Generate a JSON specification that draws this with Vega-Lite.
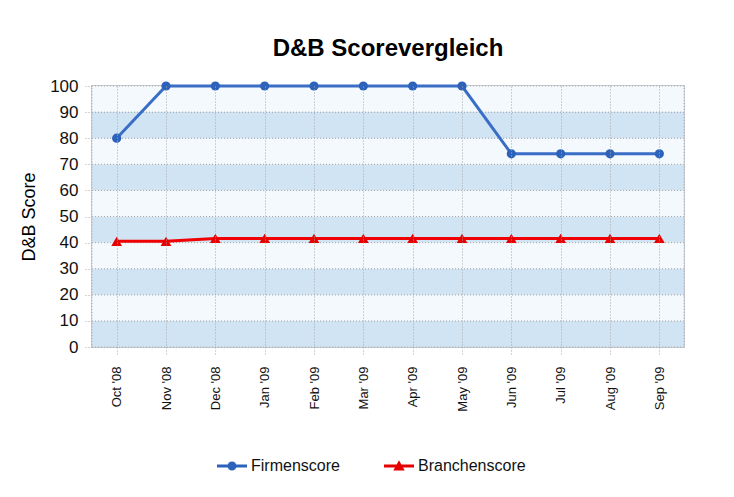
{
  "$schema": "https://vega.github.io/schema/vega-lite/v6.json",
  "width": 592,
  "height": 261,
  "autosize": {"type": "none"},
  "padding": {"left": 92, "top": 86, "right": 50, "bottom": 150},
  "background": "white",
  "title": {
    "text": "D&B Scorevergleich",
    "fontSize": 24,
    "font": "Liberation Sans",
    "fontWeight": "bold",
    "color": "#000000",
    "anchor": "middle",
    "offset": 16
  },
  "config": {
    "font": "Liberation Sans",
    "view": {"stroke": "#c6cad2", "strokeWidth": 2},
    "axis": {
      "domain": false,
      "gridColor": "#a8a8a8",
      "gridDash": [1, 2],
      "gridWidth": 1,
      "tickColor": "#a8a8a8",
      "tickDash": [1, 2],
      "labelColor": "#111111",
      "titleColor": "#000000",
      "labelFont": "Liberation Sans",
      "titleFont": "Liberation Sans",
      "labelOverlap": false
    }
  },
  "datasets": {
    "stripes": [
      {"lo": 0, "hi": 10, "band": "dark"},
      {"lo": 10, "hi": 20, "band": "light"},
      {"lo": 20, "hi": 30, "band": "dark"},
      {"lo": 30, "hi": 40, "band": "light"},
      {"lo": 40, "hi": 50, "band": "dark"},
      {"lo": 50, "hi": 60, "band": "light"},
      {"lo": 60, "hi": 70, "band": "dark"},
      {"lo": 70, "hi": 80, "band": "light"},
      {"lo": 80, "hi": 90, "band": "dark"},
      {"lo": 90, "hi": 100, "band": "light"}
    ],
    "scores": [
      {"month": "Oct '08", "series": "Firmenscore", "score": 80},
      {"month": "Nov '08", "series": "Firmenscore", "score": 100},
      {"month": "Dec '08", "series": "Firmenscore", "score": 100},
      {"month": "Jan '09", "series": "Firmenscore", "score": 100},
      {"month": "Feb '09", "series": "Firmenscore", "score": 100},
      {"month": "Mar '09", "series": "Firmenscore", "score": 100},
      {"month": "Apr '09", "series": "Firmenscore", "score": 100},
      {"month": "May '09", "series": "Firmenscore", "score": 100},
      {"month": "Jun '09", "series": "Firmenscore", "score": 74},
      {"month": "Jul '09", "series": "Firmenscore", "score": 74},
      {"month": "Aug '09", "series": "Firmenscore", "score": 74},
      {"month": "Sep '09", "series": "Firmenscore", "score": 74},
      {"month": "Oct '08", "series": "Branchenscore", "score": 40.5},
      {"month": "Nov '08", "series": "Branchenscore", "score": 40.5},
      {"month": "Dec '08", "series": "Branchenscore", "score": 41.6},
      {"month": "Jan '09", "series": "Branchenscore", "score": 41.6},
      {"month": "Feb '09", "series": "Branchenscore", "score": 41.6},
      {"month": "Mar '09", "series": "Branchenscore", "score": 41.6},
      {"month": "Apr '09", "series": "Branchenscore", "score": 41.6},
      {"month": "May '09", "series": "Branchenscore", "score": 41.6},
      {"month": "Jun '09", "series": "Branchenscore", "score": 41.6},
      {"month": "Jul '09", "series": "Branchenscore", "score": 41.6},
      {"month": "Aug '09", "series": "Branchenscore", "score": 41.6},
      {"month": "Sep '09", "series": "Branchenscore", "score": 41.6}
    ]
  },
  "layer": [
    {
      "data": {"name": "stripes"},
      "mark": {"type": "rect", "stroke": "#a8a8a8", "strokeWidth": 1, "strokeDash": [1, 2]},
      "encoding": {
        "y": {
          "field": "lo",
          "type": "quantitative",
          "scale": {"domain": [0, 100], "nice": false},
          "axis": {
            "title": "D&B Score",
            "titleFontSize": 18,
            "titleFontWeight": "normal",
            "titlePadding": 11,
            "values": [0, 10, 20, 30, 40, 50, 60, 70, 80, 90, 100],
            "tickCount": 20,
            "labelFontSize": 17,
            "labelOverlap": false,
            "labelBound": false,
            "tickSize": 8,
            "labelPadding": 6,
            "grid": false
          }
        },
        "y2": {"field": "hi"},
        "fill": {
          "field": "band",
          "type": "nominal",
          "scale": {"domain": ["dark", "light"], "range": ["#d1e4f4", "#f4f9fe"]},
          "legend": null
        }
      }
    },
    {
      "data": {"name": "scores"},
      "mark": {"type": "line", "strokeWidth": 3},
      "encoding": {
        "x": {
          "field": "month",
          "type": "ordinal",
          "sort": null,
          "scale": {"type": "point", "padding": 0.5},
          "axis": {
            "title": null,
            "labelAngle": -90,
            "labelFontSize": 13,
            "tickSize": 9,
            "labelPadding": 10,
            "labelOverlap": false,
            "grid": true,
            "zindex": 1
          }
        },
        "y": {
          "field": "score",
          "type": "quantitative"
        },
        "color": {
          "field": "series",
          "type": "nominal",
          "sort": ["Firmenscore", "Branchenscore"],
          "scale": {"domain": ["Firmenscore", "Branchenscore"], "range": ["#3a6ec6", "#f00000"]},
          "legend": {
            "title": null,
            "orient": "none",
            "legendX": 125,
            "legendY": 365,
            "direction": "horizontal",
            "labelFontSize": 16,
            "labelColor": "#111111",
            "labelOffset": 4,
            "columnPadding": 44,
            "symbolSize": 900,
            "encode": {
              "symbols": {
                "update": {
                  "shape": {"signal": "datum.value == 'Firmenscore' ? 'M-1,-0.1H1V0.1H-1Z M-0.3,0A0.3,0.3 0 1,1 0.3,0A0.3,0.3 0 1,1 -0.3,0Z' : 'M-1,-0.1H1V0.1H-1Z M0,-0.38L0.38,0.3L-0.38,0.3Z'"},
                  "fill": {"signal": "datum.value == 'Firmenscore' ? '#2d62bb' : '#e60000'"},
                  "stroke": {"value": "transparent"},
                  "strokeWidth": {"value": 0},
                  "opacity": {"value": 1},
                  "fillOpacity": {"value": 1}
                }
              }
            }
          }
        }
      }
    },
    {
      "data": {"name": "scores"},
      "mark": {"type": "point", "filled": true, "opacity": 1},
      "encoding": {
        "x": {"field": "month", "type": "ordinal", "sort": null},
        "y": {"field": "score", "type": "quantitative"},
        "color": {"field": "series", "type": "nominal", "scale": {"domain": ["Firmenscore", "Branchenscore"], "range": ["#2d62bb", "#e60000"]}, "legend": null},
        "shape": {
          "field": "series",
          "type": "nominal",
          "scale": {"domain": ["Firmenscore", "Branchenscore"], "range": ["circle", "triangle-up"]},
          "legend": null
        },
        "size": {
          "field": "series",
          "type": "nominal",
          "scale": {"domain": ["Firmenscore", "Branchenscore"], "range": [85, 115]},
          "legend": null
        }
      }
    }
  ],
  "resolve": {"scale": {"color": "independent"}}
}
